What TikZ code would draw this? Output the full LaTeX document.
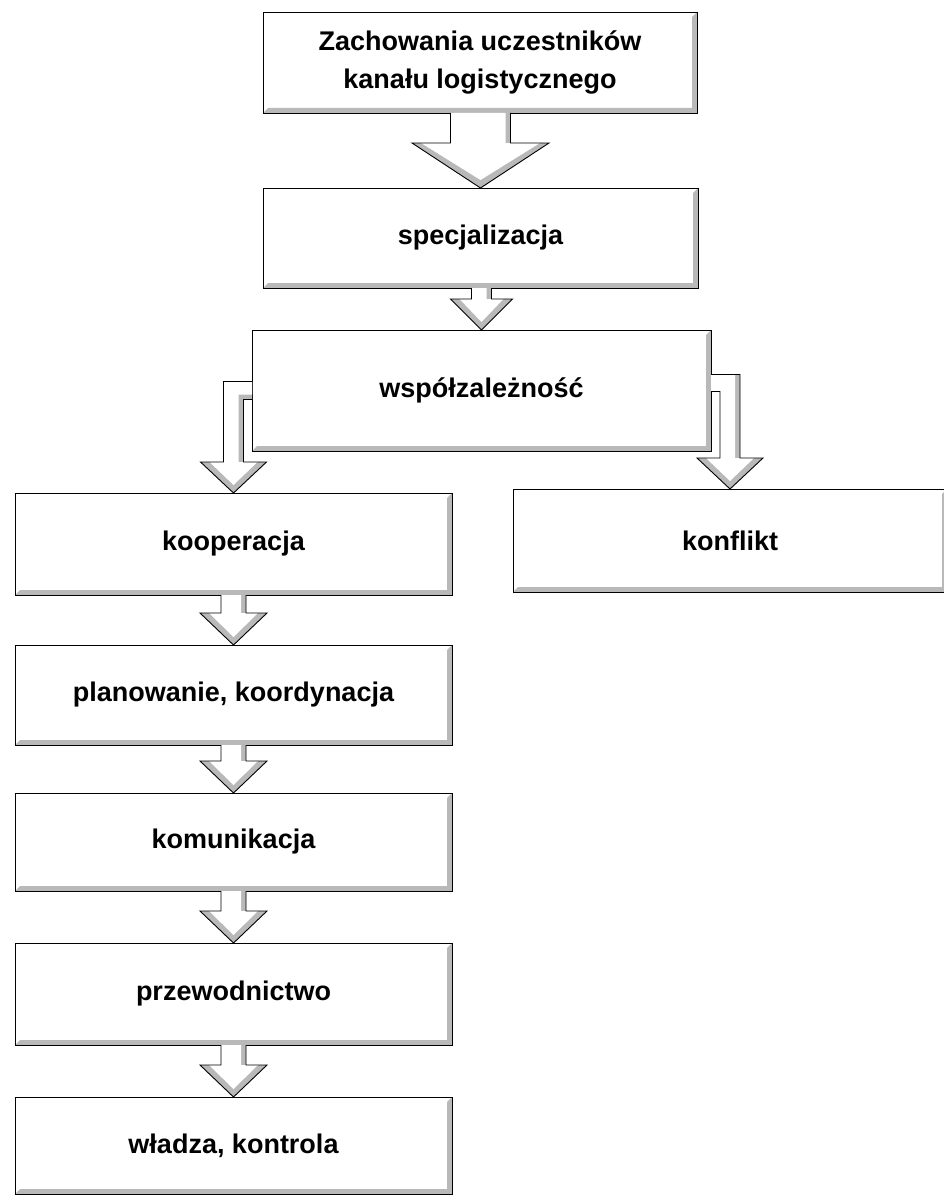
\documentclass[tikz,border=0pt]{standalone}
\usepackage{fontspec}
\setmainfont{Liberation Sans}
\usetikzlibrary{calc,positioning}

\tikzset{
  bevel/.style={fill=gray!55},
  arrowline/.style={draw=black, line width=0.9pt, line join=miter},
  box/.style={draw=black, line width=0.9pt, fill=white, outer sep=0pt, inner sep=0pt,
    font=\fontsize{27}{38}\selectfont\bfseries, align=center,
    path picture={\fill[bevel] (path picture bounding box.south west) -- (path picture bounding box.south east)
      -- (path picture bounding box.north east) -- ++(-5pt,-5pt)
      -- ($(path picture bounding box.south east)+(-5pt,5pt)$)
      -- ($(path picture bounding box.south west)+(5pt,5pt)$) -- cycle;}},
}

% block arrow straight down: from, to, shaft half width, head half width, head length
\newcommand{\downblock}[5]{%
  \fill[bevel] let \p1=(#1), \p2=(#2) in
    (\x2-#3pt,\y1) -- (\x2-#3pt,\y2+#5pt) -- (\x2-#4pt,\y2+#5pt) -- (\x2,\y2)
    -- (\x2+#4pt,\y2+#5pt) -- (\x2+#3pt,\y2+#5pt) -- (\x2+#3pt,\y1) -- cycle;
  \fill[white] let \p1=(#1), \p2=(#2) in
    (\x2-#3pt,\y1) -- (\x2-#3pt,\y2+#5pt) -- (\x2-#4pt+9pt,\y2+#5pt) -- (\x2,\y2+8pt)
    -- (\x2+#4pt-9pt,\y2+#5pt) -- (\x2+#3pt-5pt,\y2+#5pt) -- (\x2+#3pt-5pt,\y1) -- cycle;
  \draw[arrowline] let \p1=(#1), \p2=(#2) in
    (\x2-#3pt,\y1) -- (\x2-#3pt,\y2+#5pt) -- (\x2-#4pt,\y2+#5pt) -- (\x2,\y2)
    -- (\x2+#4pt,\y2+#5pt) -- (\x2+#3pt,\y2+#5pt) -- (\x2+#3pt,\y1);
}

\begin{document}
\begin{tikzpicture}[x=1pt,y=-1pt]
\useasboundingbox (0,0) rectangle (944,1196);

\node[box, minimum width=434, minimum height=101] (zach) at (480,62.5) {Zachowania uczestników\\kanału logistycznego};
\node[box, minimum width=435, minimum height=100] (spec) at (480.5,238) {specjalizacja};
\node[box, minimum width=459, minimum height=121] (wspol) at (481.5,390.5) {współzależność};
\node[box, minimum width=437, minimum height=102] (koop) at (233.5,544) {kooperacja};
\node[box, minimum width=434, minimum height=103] (konf) at (730,540.5) {konflikt};
\node[box, minimum width=437, minimum height=100] (plan) at (233.5,695) {planowanie, koordynacja};
\node[box, minimum width=437, minimum height=98] (komu) at (233.5,842) {komunikacja};
\node[box, minimum width=437, minimum height=102] (przew) at (233.5,994) {przewodnictwo};
\node[box, minimum width=437, minimum height=97] (wladza) at (233.5,1145.5) {władza, kontrola};

\downblock{zach.south}{spec.north}{30}{68.5}{45}
\downblock{spec.south}{wspol.north}{10}{31}{31}
\downblock{koop.south}{plan.north}{12.5}{33.5}{32}
\downblock{plan.south}{komu.north}{12.5}{33.5}{32}
\downblock{komu.south}{przew.north}{12.5}{33.5}{32}
\downblock{przew.south}{wladza.north}{12.5}{33.5}{32}

% bent arrow to the left
\fill[bevel] let \p1=(wspol.west), \p2=(koop.north) in
  (\x1,\y1+9pt) -- (\x2-10pt,\y1+9pt) -- (\x2-10pt,\y2+31pt) -- (\x2-33pt,\y2+31pt) -- (\x2,\y2)
  -- (\x2+33pt,\y2+31pt) -- (\x2+10pt,\y2+31pt) -- (\x2+10pt,\y1-9pt) -- (\x1,\y1-9pt) -- cycle;
\fill[white] let \p1=(wspol.west), \p2=(koop.north) in
  (\x1,\y1+9pt) -- (\x2-10pt,\y1+9pt) -- (\x2-10pt,\y2+31pt) -- (\x2-24pt,\y2+31pt) -- (\x2,\y2+8pt)
  -- (\x2+24pt,\y2+31pt) -- (\x2+5pt,\y2+31pt) -- (\x2+5pt,\y1-4pt) -- (\x1,\y1-4pt) -- cycle;
\draw[arrowline] let \p1=(wspol.west), \p2=(koop.north) in
  (\x1,\y1+9pt) -- (\x2-10pt,\y1+9pt) -- (\x2-10pt,\y2+31pt) -- (\x2-33pt,\y2+31pt) -- (\x2,\y2)
  -- (\x2+33pt,\y2+31pt) -- (\x2+10pt,\y2+31pt) -- (\x2+10pt,\y1-9pt) -- (\x1,\y1-9pt);

% bent arrow to the right
\fill[bevel] let \p1=(wspol.east), \p2=(konf.north) in
  (\x1,\y1+16pt) -- (\x2+10pt,\y1+16pt) -- (\x2+10pt,\y2+31pt) -- (\x2+33pt,\y2+31pt) -- (\x2,\y2)
  -- (\x2-33pt,\y2+31pt) -- (\x2-10pt,\y2+31pt) -- (\x2-10pt,\y1-1pt) -- (\x1,\y1-1pt) -- cycle;
\fill[white] let \p1=(wspol.east), \p2=(konf.north) in
  (\x1,\y1+16pt) -- (\x2+5pt,\y1+16pt) -- (\x2+5pt,\y2+31pt) -- (\x2+24pt,\y2+31pt) -- (\x2,\y2+8pt)
  -- (\x2-24pt,\y2+31pt) -- (\x2-10pt,\y2+31pt) -- (\x2-10pt,\y1-1pt) -- (\x1,\y1-1pt) -- cycle;
\draw[arrowline] let \p1=(wspol.east), \p2=(konf.north) in
  (\x1,\y1+16pt) -- (\x2+10pt,\y1+16pt) -- (\x2+10pt,\y2+31pt) -- (\x2+33pt,\y2+31pt) -- (\x2,\y2)
  -- (\x2-33pt,\y2+31pt) -- (\x2-10pt,\y2+31pt) -- (\x2-10pt,\y1-1pt) -- (\x1,\y1-1pt);
\end{tikzpicture}
\end{document}
